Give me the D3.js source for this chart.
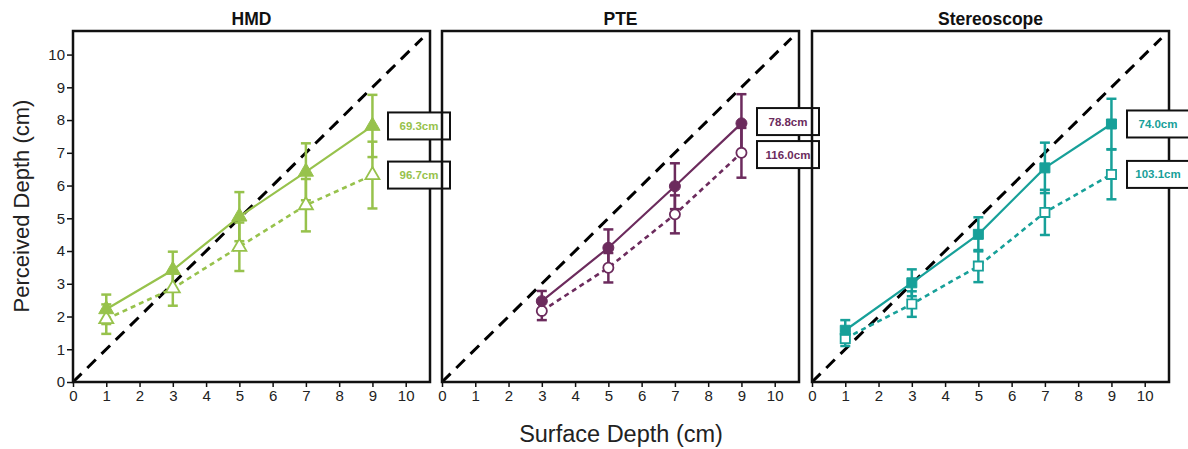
<!DOCTYPE html>
<html>
<head>
<meta charset="utf-8">
<script src="https://cdn.jsdelivr.net/npm/d3@7"></script>
<style>
  body { margin: 0; background: #fff; }
  svg { display: block; font-family: "Liberation Sans", Arial, sans-serif; }
</style>
</head>
<body>
<div id="viz"></div>
<script>
// panel titles and colours
var panelNames = ['HMD', 'PTE', 'Stereoscope'],
    panelColours = ['#97c24c', '#6c2b5d', '#17a099'],
    tickValues = [0, 1, 2, 3, 4, 5, 6, 7, 8, 9, 10];

// HMD (triangles)
var hmdX = [1, 3, 5, 7, 9],
    hmdFilled = [2.22, 3.42, 5.05, 6.42, 7.82],
    hmdFilledErr = [0.45, 0.56, 0.75, 0.87, 0.95],
    hmdOpen = [1.92, 2.86, 4.13, 5.40, 6.32],
    hmdOpenErr = [0.45, 0.53, 0.74, 0.80, 1.02],
    hmdLabels = ['69.3cm', '96.7cm'];

// PTE (circles)
var pteX = [3, 5, 7, 9],
    pteFilled = [2.47, 4.10, 5.98, 7.90],
    pteFilledErr = [0.31, 0.56, 0.70, 0.89],
    pteOpen = [2.17, 3.49, 5.12, 7.00],
    pteOpenErr = [0.28, 0.45, 0.58, 0.76],
    pteLabels = ['78.8cm', '116.0cm'];

// Stereoscope (squares)
var stereoX = [1, 3, 5, 7, 9],
    stereoFilled = [1.58, 3.03, 4.51, 6.54, 7.88],
    stereoFilledErr = [0.31, 0.41, 0.52, 0.77, 0.77],
    stereoOpen = [1.33, 2.38, 3.54, 5.18, 6.34],
    stereoOpenErr = [0.23, 0.39, 0.49, 0.69, 0.76],
    stereoLabels = ['74.0cm', '103.1cm'];

var panels = [
  { x: hmdX, f: hmdFilled, fe: hmdFilledErr, o: hmdOpen, oe: hmdOpenErr, labels: hmdLabels, symbol: d3.symbolTriangle, size: 100 },
  { x: pteX, f: pteFilled, fe: pteFilledErr, o: pteOpen, oe: pteOpenErr, labels: pteLabels, symbol: d3.symbolCircle, size: 95 },
  { x: stereoX, f: stereoFilled, fe: stereoFilledErr, o: stereoOpen, oe: stereoOpenErr, labels: stereoLabels, symbol: d3.symbolSquare, size: 100 }
];

var width = 1188, height = 449,
    panelLefts = [73, 442, 812],
    marginTop = 31,
    innerW = 357,
    innerH = 351,
    boxW = 62, boxH = 27,
    fontStack = '"Liberation Sans", Arial, sans-serif';

var svg = d3.select('#viz').append('svg')
    .attr('width', width)
    .attr('height', height);

svg.append('rect').attr('width', width).attr('height', height).attr('fill', '#fff');

var xScale = d3.scaleLinear().domain([0, 10.73]).range([0, innerW]);
var yScale = d3.scaleLinear().domain([0, 10.72]).range([innerH, 0]);

var boxLayer = [];

panels.forEach(function(p, k) {
  var col = panelColours[k];
  var g = svg.append('g')
      .attr('transform', 'translate(' + panelLefts[k] + ',' + marginTop + ')');

  // title
  g.append('text')
      .attr('x', innerW / 2)
      .attr('y', -6)
      .attr('text-anchor', 'middle')
      .style('font-size', '17.5px')
      .style('font-weight', 'bold')
      .attr('fill', '#111')
      .text(panelNames[k]);

  // x axis
  var xAxis = g.append('g')
      .attr('transform', 'translate(0,' + innerH + ')')
      .call(d3.axisBottom(xScale).tickValues(tickValues).tickSize(5).tickPadding(3));
  xAxis.select('.domain').remove();
  xAxis.selectAll('line').attr('stroke', '#111').attr('stroke-width', 1.5);
  xAxis.selectAll('text').style('font-size', '15px').attr('fill', '#222').style('font-family', fontStack);

  if (k === 0) {
    var yAxis = g.append('g')
        .call(d3.axisLeft(yScale).tickValues(tickValues).tickSize(6).tickPadding(2));
    yAxis.select('.domain').remove();
    yAxis.selectAll('line').attr('stroke', '#111').attr('stroke-width', 1.5);
    yAxis.selectAll('text').style('font-size', '15px').attr('fill', '#222').style('font-family', fontStack);
  }

  // identity line
  g.append('line')
      .attr('x1', xScale(0)).attr('y1', yScale(0))
      .attr('x2', xScale(10.5)).attr('y2', yScale(10.5))
      .attr('stroke', '#000')
      .attr('stroke-width', 3)
      .attr('stroke-dasharray', '12,8');

  var series = [
    { y: p.f, e: p.fe, filled: true },
    { y: p.o, e: p.oe, filled: false }
  ];

  // error bars
  series.forEach(function(s) {
    var eb = g.append('g').attr('stroke', col).attr('stroke-width', 2.5);
    eb.selectAll(null).data(p.x).enter().append('line')
        .attr('x1', function(d) { return xScale(d); })
        .attr('x2', function(d) { return xScale(d); })
        .attr('y1', function(d, i) { return yScale(s.y[i] - s.e[i]); })
        .attr('y2', function(d, i) { return yScale(s.y[i] + s.e[i]); });
    [-1, 1].forEach(function(sign) {
      eb.selectAll(null).data(p.x).enter().append('line')
          .attr('x1', function(d) { return xScale(d) - 5; })
          .attr('x2', function(d) { return xScale(d) + 5; })
          .attr('y1', function(d, i) { return yScale(s.y[i] + sign * s.e[i]); })
          .attr('y2', function(d, i) { return yScale(s.y[i] + sign * s.e[i]); });
    });
  });

  // lines
  series.forEach(function(s) {
    var line = d3.line()
        .x(function(d) { return xScale(d); })
        .y(function(d, i) { return yScale(s.y[i]); });
    g.append('path')
        .datum(p.x)
        .attr('d', line)
        .attr('fill', 'none')
        .attr('stroke', col)
        .attr('stroke-width', s.filled ? 2.2 : 2.6)
        .attr('stroke-dasharray', s.filled ? null : '5,4');
  });

  // markers
  series.slice().reverse().forEach(function(s) {
    g.selectAll(null).data(p.x).enter().append('path')
        .attr('d', d3.symbol().type(p.symbol).size(s.filled ? p.size : p.size * 0.85))
        .attr('transform', function(d, i) { return 'translate(' + xScale(d) + ',' + yScale(s.y[i]) + ')'; })
        .attr('fill', s.filled ? col : '#fff')
        .attr('stroke', col)
        .attr('stroke-width', s.filled ? 1 : 1.8);
  });

  // frame
  g.append('rect')
      .attr('width', innerW)
      .attr('height', innerH)
      .attr('fill', 'none')
      .attr('stroke', '#111')
      .attr('stroke-width', 2.5);

  boxLayer.push({ g: g, col: col, p: p, series: series });
});

// value boxes on top of everything, centred on the last point of each series
boxLayer.forEach(function(b) {
  var last = b.p.x.length - 1;
  var ys = b.series.map(function(s) { return yScale(s.y[last]); });
  var minGap = boxH + 6;
  if (ys[1] - ys[0] < minGap) {
    var push = (minGap - (ys[1] - ys[0])) / 2;
    ys[0] -= push;
    ys[1] += push;
  }
  b.series.forEach(function(s, j) {
    var bg = b.g.append('g').attr('transform', 'translate(' + (innerW - 42) + ',' + (ys[j] - boxH / 2) + ')');
    bg.append('rect')
        .attr('width', boxW)
        .attr('height', boxH)
        .attr('fill', '#fff')
        .attr('stroke', '#111')
        .attr('stroke-width', 2);
    bg.append('text')
        .attr('x', boxW / 2)
        .attr('y', 17.5)
        .attr('text-anchor', 'middle')
        .style('font-size', '11.5px')
        .style('font-weight', 'bold')
        .attr('fill', b.col)
        .text(b.p.labels[j]);
  });
});

// axis titles
svg.append('text')
    .attr('transform', 'translate(29,206) rotate(-90)')
    .attr('text-anchor', 'middle')
    .style('font-size', '22px')
    .attr('fill', '#222')
    .text('Perceived Depth (cm)');

svg.append('text')
    .attr('x', 621)
    .attr('y', 442)
    .attr('text-anchor', 'middle')
    .style('font-size', '23.5px')
    .attr('fill', '#222')
    .text('Surface Depth (cm)');
</script>
</body>
</html>
